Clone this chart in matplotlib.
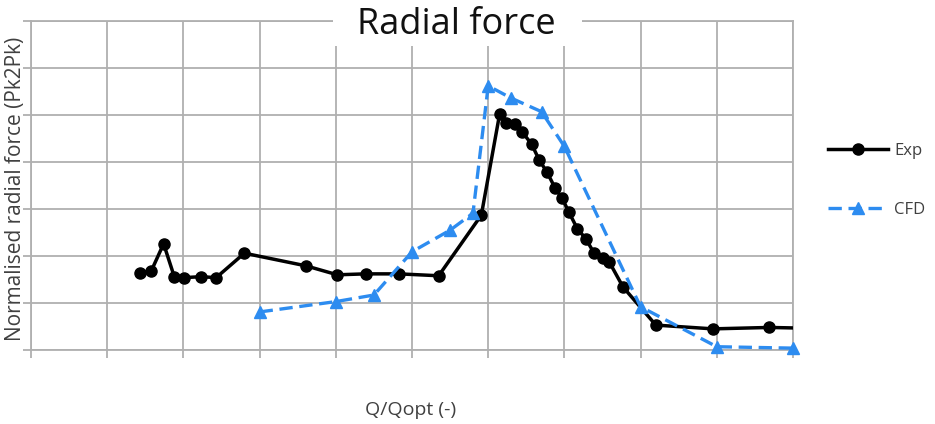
import numpy as np
import matplotlib
matplotlib.use("Agg")
import matplotlib.pyplot as plt
from matplotlib.patches import Rectangle

plt.rcParams['font.family'] = ['Open Sans', 'DejaVu Sans']

# ---------------------------
# Data (grid units)
# ---------------------------
exp_x = [1.43, 1.58, 1.74, 1.88, 2.01, 2.23, 2.43, 2.80, 3.61, 4.02, 4.39, 4.83, 5.35,
         5.91, 6.15, 6.24, 6.35, 6.45, 6.57, 6.67, 6.77, 6.88, 6.97, 7.06, 7.17, 7.28,
         7.39, 7.51, 7.59, 7.77, 8.20, 8.95, 9.69, 10.30]
exp_y = [1.63, 1.69, 2.26, 1.56, 1.54, 1.56, 1.54, 2.06, 1.79, 1.60, 1.62, 1.62, 1.58,
         2.87, 5.02, 4.84, 4.80, 4.63, 4.38, 4.04, 3.79, 3.44, 3.23, 2.93, 2.58, 2.37,
         2.06, 1.96, 1.87, 1.34, 0.53, 0.45, 0.48, 0.46]

cfd_x = [3.0, 4.0, 4.5, 5.0, 5.5, 5.8, 6.0, 6.3, 6.7, 7.0, 8.0, 9.0, 10.0]
cfd_y = [0.81, 1.03, 1.17, 2.09, 2.55, 2.91, 5.62, 5.36, 5.07, 4.33, 0.92, 0.07, 0.04]

title = "Radial force"
xlabel = "Q/Qopt (-)"
ylabel = "Normalised radial force (Pk2Pk)"

# ---------------------------
# Plot
# ---------------------------
fig = plt.figure(figsize=(9.35, 4.24), dpi=100)
ax = fig.add_axes([0.0332, 0.1745, 0.8149, 0.776])

grid_col = "#b0b0b0"
ax.set_xlim(0, 10)
ax.set_ylim(0, 7)
ax.set_xticks(np.arange(0, 11, 1))
ax.set_yticks(np.arange(0, 8, 1))
ax.set_xticklabels([])
ax.set_yticklabels([])
ax.grid(True, color=grid_col, linewidth=1.3)
ax.set_axisbelow(True)
for s in ax.spines.values():
    s.set_color(grid_col)
    s.set_linewidth(1.3)
ax.tick_params(axis="both", color=grid_col, width=1.3, length=6)

ax.plot(exp_x, exp_y, color="black", linewidth=2.5, marker="o", markersize=8,
        label="Exp", zorder=3, clip_on=True)
ax.plot(cfd_x, cfd_y, color="#2d8cf0", linewidth=2.4, linestyle=(0, (4, 2)),
        marker="^", markersize=8, label="CFD", zorder=4, clip_on=False)

# white box behind the title, covering the top grid
fig.patches.append(Rectangle((0.356, 0.8915), 0.2665, 0.11, transform=fig.transFigure,
                             facecolor="white", edgecolor="none", zorder=9))
fig.text(0.488, 0.94, title, ha="center", va="center", fontsize=26, color="#111111",
         zorder=10)
fig.text(0.439, 0.033, xlabel, ha="center", va="center", fontsize=14, color="#404040")
fig.text(0.017, 0.555, ylabel, ha="center", va="center", rotation=90, fontsize=15,
         color="#404040")

fig.legend(loc="center left", bbox_to_anchor=(0.869, 0.575), frameon=False,
           fontsize=12, handlelength=3.6, labelspacing=2.6, handletextpad=0.4,
           labelcolor="#404040")

fig.savefig("out.png", dpi=100)
